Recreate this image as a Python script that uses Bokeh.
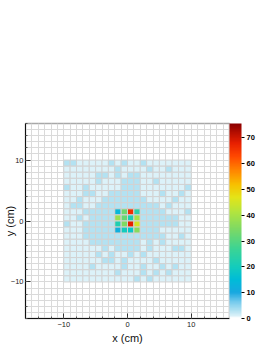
import numpy as np
from bokeh.plotting import figure
from bokeh.models import (LinearColorMapper, ColorBar, SingleIntervalTicker,
                          ColumnDataSource, Range1d)
from bokeh.embed import file_html
from bokeh.resources import INLINE

# ---------------- data ----------------
x_edges = list(range(-10, 11))          # bin edges (cm)
y_edges = list(range(10, -11, -1))      # bin edges, top to bottom (cm)
# counts per bin, rows from top (y 9..10) to bottom (y -10..-9)
counts = [
    [3, 3, 1, 1, 1, 1, 1, 3, 1, 3, 1, 1, 3, 1, 1, 1, 1, 1, 1, 1],
    [1, 1, 1, 1, 1, 1, 1, 1, 3, 1, 1, 1, 1, 3, 1, 1, 3, 1, 1, 1],
    [1, 1, 1, 1, 1, 3, 3, 1, 3, 1, 3, 3, 1, 1, 1, 1, 1, 1, 1, 1],
    [1, 1, 1, 1, 1, 3, 1, 1, 1, 3, 3, 3, 1, 1, 3, 1, 1, 1, 1, 1],
    [3, 1, 1, 3, 1, 1, 1, 1, 1, 3, 3, 3, 1, 1, 1, 1, 1, 1, 1, 3],
    [1, 1, 1, 3, 3, 1, 1, 3, 3, 3, 3, 3, 1, 1, 1, 3, 1, 1, 3, 1],
    [1, 1, 3, 1, 1, 1, 3, 3, 3, 3, 3, 3, 3, 1, 1, 1, 1, 3, 1, 1],
    [1, 3, 3, 1, 1, 3, 3, 3, 3, 3, 3, 3, 3, 3, 3, 1, 3, 1, 1, 1],
    [1, 1, 1, 3, 3, 3, 3, 3, 14, 33, 66, 24, 3, 3, 3, 3, 1, 1, 1, 3],
    [1, 1, 3, 1, 3, 3, 3, 3, 38, 32, 22, 40, 3, 3, 3, 3, 3, 3, 1, 1],
    [3, 1, 1, 3, 3, 3, 3, 3, 22, 35, 68, 45, 3, 3, 3, 3, 3, 3, 1, 1],
    [1, 1, 1, 3, 3, 3, 3, 3, 12, 20, 18, 36, 3, 3, 3, 1, 1, 1, 1, 1],
    [1, 1, 1, 3, 3, 3, 3, 3, 3, 3, 3, 3, 3, 3, 3, 3, 1, 1, 3, 1],
    [1, 1, 1, 1, 3, 3, 3, 3, 3, 3, 3, 3, 1, 3, 1, 3, 1, 1, 1, 1],
    [1, 1, 1, 1, 1, 1, 3, 1, 3, 3, 3, 3, 1, 3, 1, 1, 1, 3, 3, 1],
    [1, 1, 1, 1, 1, 3, 1, 3, 1, 1, 3, 1, 3, 1, 1, 1, 1, 1, 1, 1],
    [1, 1, 1, 1, 1, 1, 3, 3, 1, 3, 1, 1, 1, 1, 3, 1, 1, 1, 1, 1],
    [1, 1, 1, 1, 3, 1, 1, 1, 1, 3, 1, 1, 3, 1, 1, 3, 1, 3, 1, 1],
    [1, 1, 1, 1, 1, 1, 1, 1, 3, 1, 1, 1, 3, 1, 3, 1, 3, 1, 1, 1],
    [1, 1, 1, 1, 1, 1, 1, 1, 1, 1, 1, 3, 1, 3, 1, 1, 1, 1, 1, 1],
]
x_range = (-16, 16)
y_range = (-16, 16)
z_max = 75.6
axis_tick_step = 10
z_tick_step = 10

# ---------------- palette (ROOT-like) ----------------
stops = [(0, "#ffffff"), (1, "#d8f0f8"), (3, "#b2e2f2"), (6, "#7ccdee"),
         (10, "#18a8e0"), (15, "#00bcd8"), (20, "#14ccbc"), (27, "#3cd494"),
         (34, "#78d868"), (41, "#b0e440"), (47, "#e4e418"), (52, "#f8c000"),
         (57, "#ff8a00"), (63, "#ff4800"), (68, "#e82000"), (75.6, "#8c0000")]
sv = np.array([s[0] for s in stops])
sc = np.array([[int(c[1:3], 16), int(c[3:5], 16), int(c[5:7], 16)] for _, c in stops])
vals = np.linspace(0, z_max, 256)
palette = []
for v in vals:
    rgb = [int(round(np.interp(v, sv, sc[:, k]))) for k in range(3)]
    palette.append("#%02x%02x%02x" % tuple(rgb))

# ---------------- build source ----------------
xs, ys, ws, hs, vs = [], [], [], [], []
for r, row in enumerate(counts):
    y0, y1 = y_edges[r + 1], y_edges[r]
    for c, v in enumerate(row):
        x0, x1 = x_edges[c], x_edges[c + 1]
        xs.append((x0 + x1) / 2)
        ys.append((y0 + y1) / 2)
        ws.append(x1 - x0)
        hs.append(y1 - y0)
        vs.append(v)
src = ColumnDataSource(dict(x=xs, y=ys, w=ws, h=hs, v=vs))

mapper = LinearColorMapper(palette=palette, low=0, high=z_max)

FONT = "Liberation Sans"
p = figure(frame_width=204, frame_height=195,
           x_range=Range1d(*x_range), y_range=Range1d(*y_range),
           output_backend="svg", toolbar_location=None,
           min_border_left=17, min_border_top=123, min_border_bottom=29,
           min_border_right=0)
p.background_fill_color = "white"
p.outline_line_color = "#a8a8a8"
p.outline_line_width = 1.5

p.rect(x="x", y="y", width="w", height="h", source=src,
       fill_color={"field": "v", "transform": mapper},
       line_color="#d2d2d2", line_width=1)

for g in (p.xgrid, p.ygrid):
    g.ticker = SingleIntervalTicker(interval=1)
    g.grid_line_color = "#dadada"
    g.grid_line_width = 1

for ax in (p.xaxis, p.yaxis):
    ax.ticker = SingleIntervalTicker(interval=axis_tick_step, num_minor_ticks=5)
    ax.axis_line_color = "#111111"
    ax.axis_line_width = 1
    ax.major_tick_in = 5
    ax.major_tick_out = 0
    ax.minor_tick_in = 2
    ax.minor_tick_out = 0
    ax.major_tick_line_color = "#333333"
    ax.minor_tick_line_color = "#555555"
    ax.major_label_text_font = FONT
    ax.major_label_text_font_size = "7.5px"
    ax.major_label_text_color = "#222222"
    ax.axis_label_text_font = FONT
    ax.axis_label_text_font_size = "11px"
    ax.axis_label_text_font_style = "normal"
    ax.axis_label_text_color = "#111111"

p.xaxis.axis_label = "x (cm)"
p.xaxis.major_label_standoff = 3
p.xaxis.axis_label_standoff = 2
p.yaxis.axis_label = "y (cm)"
p.yaxis.major_label_standoff = 2
p.yaxis.axis_label_standoff = -8

cb = ColorBar(color_mapper=mapper, width=12, padding=0, margin=0,
              ticker=SingleIntervalTicker(interval=z_tick_step, num_minor_ticks=0),
              major_tick_in=0, major_tick_out=3, major_tick_line_color="#000000",
              minor_tick_line_color=None,
              major_label_text_font=FONT, major_label_text_font_size="7.5px",
              major_label_text_font_style="bold", major_label_text_color="#000000",
              label_standoff=2, bar_line_color=None, border_line_color=None)
p.add_layout(cb, "right")

open("out.html", "w").write(file_html(p, INLINE))
